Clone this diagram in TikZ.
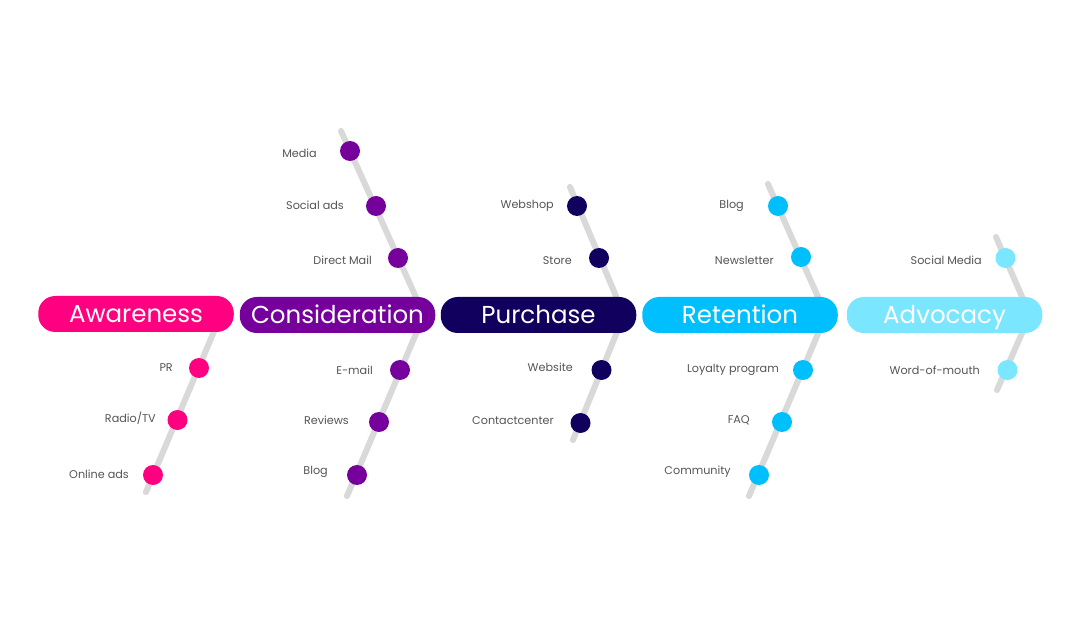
\documentclass[tikz,border=0pt]{standalone}
\usepackage{fontspec}
\setmainfont{Poppins}
\definecolor{cAware}{HTML}{FF0080}
\definecolor{cConsid}{HTML}{76009B}
\definecolor{cPurch}{HTML}{12005E}
\definecolor{cReten}{HTML}{00BFFF}
\definecolor{cAdvoc}{HTML}{7AE6FF}
\definecolor{boneGray}{HTML}{D9D9D9}
\definecolor{lblGray}{HTML}{555555}
\begin{document}
\begin{tikzpicture}[x=1pt,y=-1pt,
  stagebox/.style={fill=#1, rounded corners=17pt, minimum height=36pt, minimum width=195.5pt,
    text=white, font=\fontsize{24.5}{26}\selectfont, inner sep=0pt, text height=17pt, text depth=0pt},
  bone/.style={draw=boneGray, line width=6pt, line cap=round, line join=round},
  dotn/.style={circle, fill=#1, minimum size=20pt, inner sep=0pt},
  lbl/.style={text=lblGray, font=\fontsize{11.2}{13}\selectfont, anchor=east, inner sep=0pt}
]
\useasboundingbox (0,0) rectangle (1080,628);
\fill[white] (0,0) rectangle (1080,628);

% ---------- bone coordinates ----------
\coordinate (aApex) at (221,315);
\coordinate (aBot)  at (146,492);
\coordinate (cTop)  at (341,131);
\coordinate (cApex) at (424,315);
\coordinate (cBot)  at (347,496);
\coordinate (pTop)  at (570,187);
\coordinate (pApex) at (624,315);
\coordinate (pBot)  at (573,440);
\coordinate (rTop)  at (768,184);
\coordinate (rApex) at (826,315);
\coordinate (rBot)  at (749,496);
\coordinate (vTop)  at (996,237);
\coordinate (vApex) at (1030,315);
\coordinate (vBot)  at (997,390);

\draw[bone] (aApex) -- (aBot);
\draw[bone] (cTop) -- (cApex) -- (cBot);
\draw[bone] (pTop) -- (pApex) -- (pBot);
\draw[bone] (rTop) -- (rApex) -- (rBot);
\draw[bone] (vTop) -- (vApex) -- (vBot);

% ---------- stages ----------
\node[stagebox=cAware]  (sAware)  at (136,314)   {Awareness};
\node[stagebox=cConsid] (sConsid) at (337.5,315) {Consideration};
\node[stagebox=cPurch]  (sPurch)  at (538.5,315) {Purchase};
\node[stagebox=cReten]  (sReten)  at (740,315)   {Retention};
\node[stagebox=cAdvoc]  (sAdvoc)  at (944.5,315) {Advocacy};

% ---------- Awareness ----------
\node[dotn=cAware] (a1) at (199,368) {};
\node[dotn=cAware] (a2) at (177.5,420) {};
\node[dotn=cAware] (a3) at (153,475) {};
\node[lbl] (la1) at (173,368) {PR};
\node[lbl] (la2) at (156,418) {Radio/TV};
\node[lbl] (la3) at (129,474) {Online ads};

% ---------- Consideration ----------
\node[dotn=cConsid] (c1) at (350,151) {};
\node[dotn=cConsid] (c2) at (376,206) {};
\node[dotn=cConsid] (c3) at (398,258) {};
\node[dotn=cConsid] (c4) at (400,370) {};
\node[dotn=cConsid] (c5) at (379,422) {};
\node[dotn=cConsid] (c6) at (357,475) {};
\node[lbl] (lc1) at (317,153) {Media};
\node[lbl] (lc2) at (344,205) {Social ads};
\node[lbl] (lc3) at (372,260) {Direct Mail};
\node[lbl] (lc4) at (373,370) {E-mail};
\node[lbl] (lc5) at (349,420) {Reviews};
\node[lbl] (lc6) at (328,472) {Blog};

% ---------- Purchase ----------
\node[dotn=cPurch] (p1) at (577,206) {};
\node[dotn=cPurch] (p2) at (599,258) {};
\node[dotn=cPurch] (p3) at (601.5,370) {};
\node[dotn=cPurch] (p4) at (580.5,423) {};
\node[lbl] (lp1) at (554,206) {Webshop};
\node[lbl] (lp2) at (572,261) {Store};
\node[lbl] (lp3) at (573,367) {Website};
\node[lbl] (lp4) at (554,421) {Contactcenter};

% ---------- Retention ----------
\node[dotn=cReten] (r1) at (778,206) {};
\node[dotn=cReten] (r2) at (801,257) {};
\node[dotn=cReten] (r3) at (803,370) {};
\node[dotn=cReten] (r4) at (782,422) {};
\node[dotn=cReten] (r5) at (759,475) {};
\node[lbl] (lr1) at (744,206) {Blog};
\node[lbl] (lr2) at (774,260) {Newsletter};
\node[lbl] (lr3) at (779,370) {Loyalty program};
\node[lbl] (lr4) at (750,420) {FAQ};
\node[lbl] (lr5) at (731,472) {Community};

% ---------- Advocacy ----------
\node[dotn=cAdvoc] (v1) at (1005.5,258) {};
\node[dotn=cAdvoc] (v2) at (1007.5,370) {};
\node[lbl] (lv1) at (982,260) {Social Media};
\node[lbl] (lv2) at (980,370) {Word-of-mouth};
\end{tikzpicture}
\end{document}
